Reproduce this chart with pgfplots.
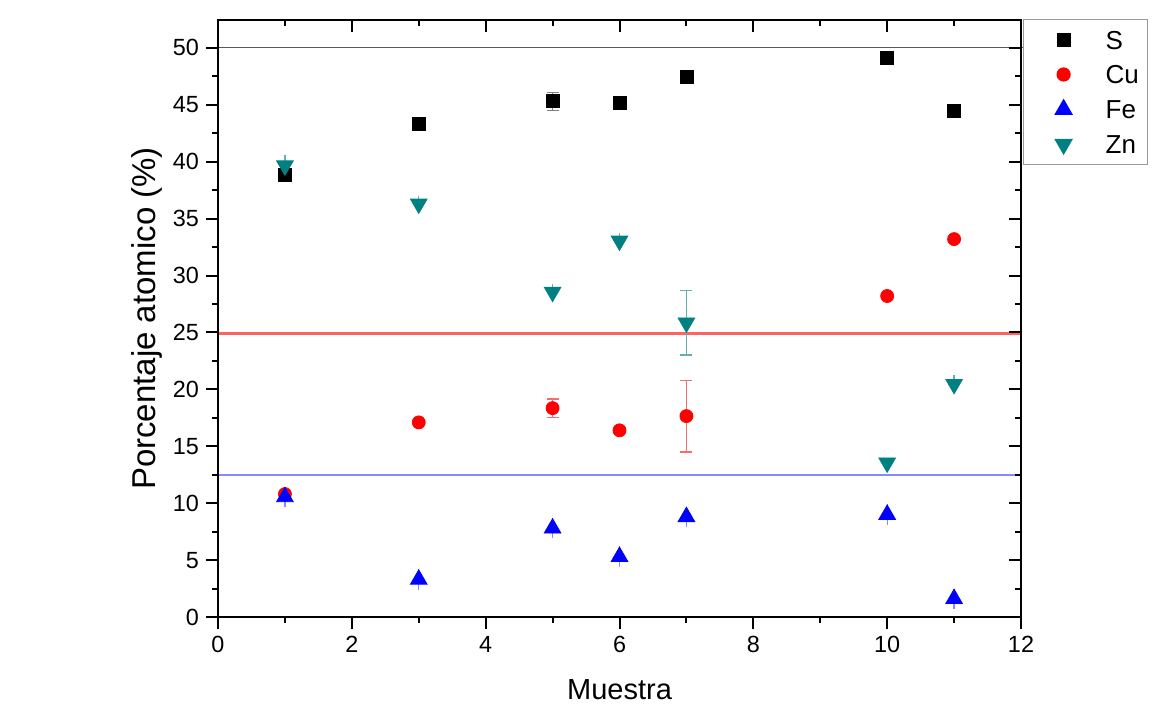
\documentclass[border=0pt]{standalone}
\usepackage{fontspec}
\setmainfont{Liberation Sans}
\usepackage{pgfplots}
\usepackage{pgfplotstable}
\pgfplotsset{compat=1.18}
\definecolor{zn}{RGB}{0,128,128}
\definecolor{cu}{RGB}{255,0,0}
\definecolor{fe}{RGB}{0,0,255}
\definecolor{pinkline}{RGB}{255,100,100}
\definecolor{blueline}{RGB}{135,135,255}
\definecolor{cuerr}{RGB}{245,110,110}
\definecolor{znerr}{RGB}{100,175,175}

\pgfplotstableread{
x y e
1 38.8 0
3 43.3 0
5 45.3 0.8
6 45.2 0
7 47.45 0
10 49.1 0
11 44.5 0
}\tS
\pgfplotstableread{
x y e
1 10.8 0
3 17.1 0
5 18.35 0.8
6 16.4 0
7 17.65 3.15
10 28.2 0
11 33.2 0
}\tCu
\pgfplotstableread{
x y e
1 10.55 0.9
3 3.3 0.9
5 7.8 0.9
6 5.3 0.9
7 8.8 0.9
10 9.0 0.9
11 1.6 0.9
}\tFe
\pgfplotstableread{
x y e
1 39.65 0.9
3 36.3 0.7
5 28.55 0.7
6 33.05 0.7
7 25.85 2.83
10 13.55 0.3
11 20.45 0.8
}\tZn
\pgfplotstableread{
x y e
7 25.85 2.83
}\tZnCap
\pgfplotstableread{
x y
0 24.9
12 24.9
}\tRedRef

\begin{document}
\begin{tikzpicture}
\useasboundingbox (-109pt,-45pt) rectangle (473.5pt,308.5pt);
\begin{axis}[
  scale only axis, width=401.5pt, height=298.5pt,
  at={(0,0)}, anchor=south west,
  xmin=0, xmax=12, ymin=0, ymax=52.45,
  xtick={0,2,...,12}, ytick={0,5,...,50},
  minor x tick num=1, minor y tick num=1,
  xtick pos=left, ytick pos=left,
  tick align=outside,
  major tick length=6pt, minor tick length=3pt,
  axis line style={line width=1pt},
  every tick/.style={black, line width=1pt},
  ticklabel style={font=\fontsize{11.7}{13}\selectfont},
  /pgf/number format/assume math mode=true,
  xlabel={Muestra}, ylabel={Porcentaje atomico (\%)},
  xlabel style={at={(axis description cs:0.5,-0.122)}, anchor=center, font=\fontsize{14.5}{17}\selectfont},
  ylabel style={at={(axis description cs:-0.0884,0.5)}, anchor=center, font=\fontsize{16.5}{19}\selectfont},
  legend style={at={(1.0025,1.0022)}, anchor=north west, draw=gray!80, line width=0.6pt,
    fill=white, font=\fontsize{13}{15}\selectfont, inner xsep=4.5pt, inner ysep=5.5pt,
    row sep=8pt, nodes={inner sep=0pt, text height=9.4pt, text depth=0pt}},
  legend image code/.code={%
    \path[draw=none, fill=none] (-15.5pt,-4pt) (21pt,4pt);
    \draw[#1] plot coordinates {(0pt,0pt)};},
  legend cell align=left,
  clip=false,
]
\addplot[forget plot, color=gray!70!black, mark=none, line width=0.6pt] coordinates {(0,50) (12.07,50)};
\addplot[forget plot, color=blueline, mark=none, line width=0.9pt] coordinates {(0,12.5) (12,12.5)};
\addplot[forget plot, draw=pinkline, mark=none, line width=1.1pt] table[x=x, y=y] {\tRedRef};

\addplot[only marks, mark=square*, mark size=3.25pt, mark options={black, fill=black},
  error bars/.cd, y dir=both, y explicit,
  error bar style={gray, line width=0.6pt},
  error mark options={rotate=90, mark size=3pt, gray, line width=0.6pt}]
  table[x=x, y=y, y error=e] {\tS};
\addlegendentry{S}
\addplot[only marks, mark=*, mark size=3.25pt, mark options={cu, fill=cu},
  error bars/.cd, y dir=both, y explicit,
  error bar style={cuerr, line width=0.6pt},
  error mark options={rotate=90, mark size=3pt, cuerr, line width=0.6pt}]
  table[x=x, y=y, y error=e] {\tCu};
\addlegendentry{Cu}
\addplot[only marks, mark=triangle*, mark size=4.8pt, mark options={fe, fill=fe},
  error bars/.cd, y dir=both, y explicit,
  error bar style={blueline, line width=0.6pt},
  error mark=none]
  table[x=x, y=y, y error=e] {\tFe};
\addlegendentry{Fe}
\addplot[forget plot, only marks, mark=none,
  error bars/.cd, y dir=both, y explicit,
  error bar style={znerr, line width=0.6pt},
  error mark options={rotate=90, mark size=3pt, znerr, line width=0.6pt}]
  table[x=x, y=y, y error=e] {\tZnCap};
\addplot[only marks, mark=triangle*, mark size=4.8pt, mark options={zn, fill=zn, rotate=180},
  error bars/.cd, y dir=both, y explicit,
  error bar style={znerr, line width=0.6pt},
  error mark=none]
  table[x=x, y=y, y error=e] {\tZn};
\addlegendentry{Zn}
\end{axis}
\begin{axis}[
  scale only axis, width=401.5pt, height=298.5pt,
  at={(0,0)}, anchor=south west,
  xmin=0, xmax=12, ymin=0, ymax=52.45,
  xtick={0,2,...,12}, ytick={0,5,...,50},
  minor x tick num=1, minor y tick num=1,
  xtick pos=right, ytick pos=right,
  tick align=inside,
  xticklabels={}, yticklabels={},
  major tick length=6pt, minor tick length=3pt,
  axis line style={line width=1pt},
  every tick/.style={black, line width=1pt},
]
\end{axis}
\end{tikzpicture}
\end{document}
